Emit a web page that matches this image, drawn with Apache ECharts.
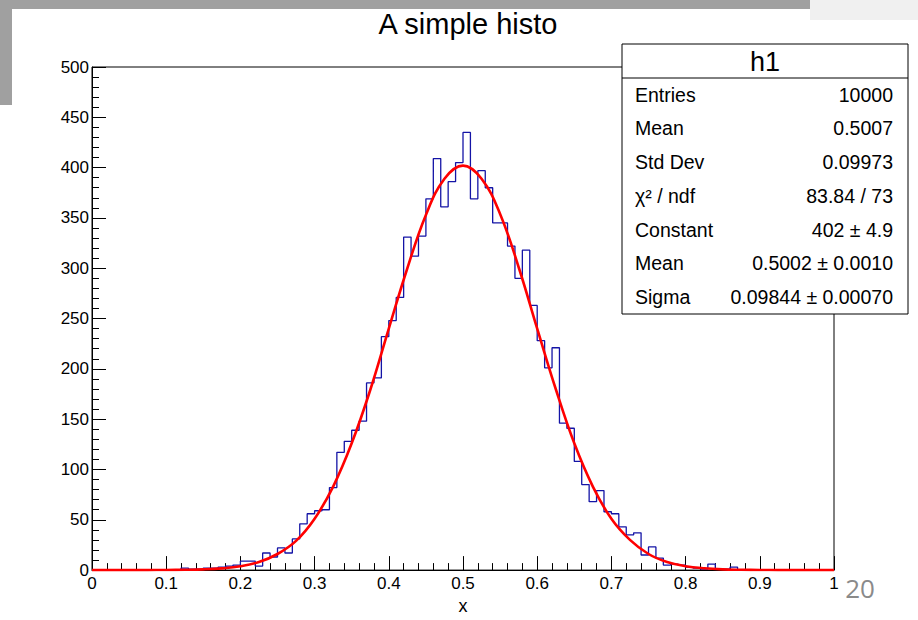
<!DOCTYPE html>
<html>
<head>
<meta charset="utf-8">
<script src="https://cdn.jsdelivr.net/npm/echarts@6/dist/echarts.min.js"></script>
<style>
html,body{margin:0;padding:0;background:#fff;}
#chart{width:918px;height:620px;}
</style>
</head>
<body>
<div id="chart"></div>
<script>
// ---- data ----
const binLow = 0;          // histogram range
const binHigh = 1;
const binCounts = [
  0,0,0,0,0,0,0,0,0,0,
  0,0,2,1,1,2,2,3,4,5,
  9,9,4,17,13,22,17,31,46,56,
  59,60,82,117,128,139,148,186,191,232,
  248,271,331,312,332,369,409,361,386,405,
  435,369,397,380,345,345,322,290,318,263,
  228,201,221,146,141,108,85,68,79,58,
  56,43,35,37,15,23,12,5,6,5,
  3,2,1,6,1,1,3,0,0,0,
  0,0,0,0,0,0,0,0,0,0
];
const fitX = [0,0.025,0.05,0.075,0.1,0.125,0.15,0.175,0.2,0.225,0.25,0.275,0.3,0.325,0.35,0.375,0.4,0.425,0.45,0.475,
  0.5,0.525,0.55,0.575,0.6,0.625,0.65,0.675,0.7,0.725,0.75,0.775,0.8,0.825,0.85,0.875,0.9,0.925,0.95,0.975,1];
const fitY = [0,0,0,0,0.1,0.3,0.7,1.7,3.8,8,16,29,51,83,126,179,240,300,353,389,
  402,389,354,301,240,180,126,83,51,30,16,8,3.9,1.8,0.7,0.3,0.1,0,0,0,0];
const xTicks = ['0','0.1','0.2','0.3','0.4','0.5','0.6','0.7','0.8','0.9','1'];
const statLabels = ['Entries','Mean','Std Dev','\u03C7\u00B2 / ndf','Constant','Mean','Sigma'];
const statValues = ['10000','0.5007','0.09973','83.84 / 73','402 \u00B1 4.9','0.5002 \u00B1 0.0010','0.09844 \u00B1 0.00070'];
const statTitle = 'h1';
const chartTitle = 'A simple histo';
const xTitle = 'x';
const pageNumber = '20';

// ---- build series data ----
const binW = (binHigh - binLow) / binCounts.length;
const histData = binCounts.map((c, i) => [binLow + i * binW, c]);
histData.push([binHigh, binCounts[binCounts.length - 1]]);
const fitData = fitX.map((x, i) => [x, fitY[i]]);

const FONT = 'Liberation Sans, Arial, Helvetica, sans-serif';
const box = {x: 622, y: 44, w: 286, h: 270, head: 34};
const rowY = [95, 128, 162, 196, 230, 263, 297];

const graphics = [
  {type:'rect', shape:{x:0,y:0,width:810,height:9}, style:{fill:'#a0a0a0'}, z:1},
  {type:'rect', shape:{x:0,y:0,width:12,height:105}, style:{fill:'#a0a0a0'}, z:1},
  {type:'rect', shape:{x:810,y:0,width:108,height:20}, style:{fill:'#f0f0f0'}, z:1},
  {type:'rect', shape:{x:box.x,y:box.y,width:box.w,height:box.h}, style:{fill:'#fff',stroke:'#000',lineWidth:1}, z:100},
  {type:'line', shape:{x1:box.x,y1:box.y+box.head,x2:box.x+box.w,y2:box.y+box.head}, style:{stroke:'#000',lineWidth:1}, z:101},
  {type:'text', x: box.x + box.w/2, y: box.y + box.head/2 + 1, style:{text: statTitle, font:'27px ' + FONT, fill:'#000', align:'center', verticalAlign:'middle'}, z:102},
  {type:'text', x: 860, y: 588, style:{text: pageNumber, font:'26px Open Sans, sans-serif', fill:'#8a8a8a', align:'center', verticalAlign:'middle'}, z:102}
];
statLabels.forEach((t, i) => {
  graphics.push({type:'text', x: 635, y: rowY[i], style:{text:t, font:'19.5px ' + FONT, fill:'#000', align:'left', verticalAlign:'middle'}, z:102});
  graphics.push({type:'text', x: 893, y: rowY[i], style:{text:statValues[i], font:'19.5px ' + FONT, fill:'#000', align:'right', verticalAlign:'middle'}, z:102});
});

const chart = echarts.init(document.getElementById('chart'), null, {renderer:'svg'});
chart.setOption({
  animation: false,
  backgroundColor: '#fff',
  title: {
    text: chartTitle, left: 463, top: 4, textAlign: 'center',
    textStyle: {fontFamily: FONT, fontSize: 29, fontWeight: 'normal', color: '#000'}
  },
  grid: {left: 92, right: 84, top: 67, bottom: 44, show: true, borderColor: '#000', borderWidth: 1, backgroundColor: 'transparent', containLabel: false},
  xAxis: {
    type: 'value', min: 0, max: 1, interval: 0.1,
    name: xTitle, nameLocation: 'middle', nameGap: 26,
    nameTextStyle: {fontFamily: FONT, fontSize: 18, color: '#000'},
    axisLine: {show: true, lineStyle: {color: '#000', width: 1}},
    axisTick: {show: true, inside: true, length: 14, lineStyle: {color: '#000'}},
    minorTick: {show: true, splitNumber: 5, length: 7, lineStyle: {color: '#000'}},
    splitLine: {show: false},
    axisLabel: {show: true, margin: 5, fontFamily: FONT, fontSize: 17, color: '#000', showMinLabel: true, showMaxLabel: true,
      formatter: (v) => xTicks[Math.round(v * 10)]}
  },
  yAxis: {
    type: 'value', min: 0, max: 500, interval: 50,
    axisLine: {show: true, lineStyle: {color: '#000', width: 1}},
    axisTick: {show: true, inside: true, length: 14, lineStyle: {color: '#000'}},
    minorTick: {show: true, splitNumber: 5, length: 7, lineStyle: {color: '#000'}},
    splitLine: {show: false},
    axisLabel: {show: true, margin: 3, fontFamily: FONT, fontSize: 17, color: '#000', showMinLabel: true, showMaxLabel: true}
  },
  series: [
    {
      name: 'h1', type: 'line', step: 'end', data: histData, symbol: 'none',
      lineStyle: {color: '#1414a6', width: 1.3}, z: 3, silent: true
    },
    {
      name: 'fit', type: 'line', data: fitData, symbol: 'none', smooth: 0.4,
      lineStyle: {color: '#ff0000', width: 2.6}, z: 4, silent: true
    }
  ],
  graphic: graphics
});
</script>
</body>
</html>
